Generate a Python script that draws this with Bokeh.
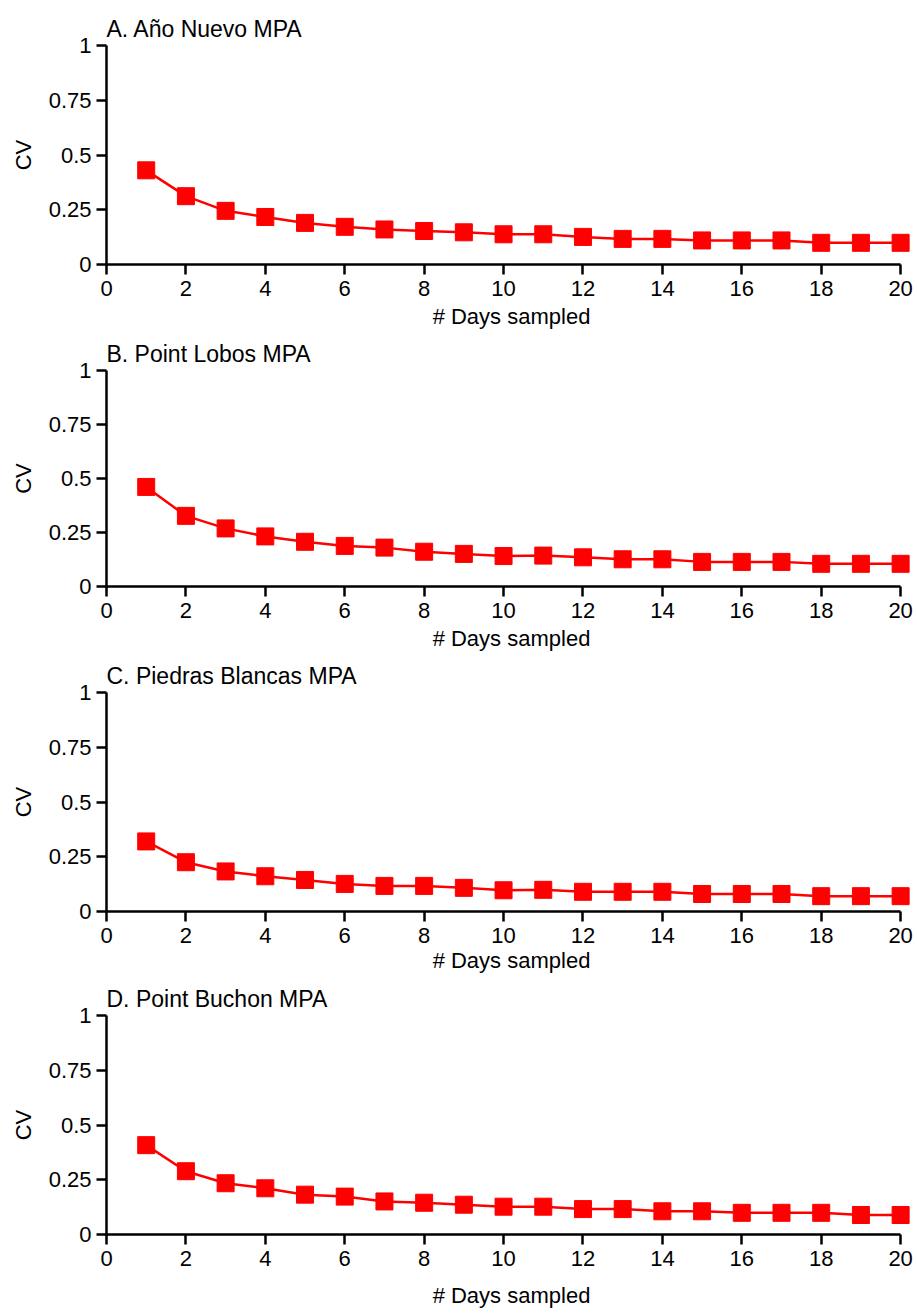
from bokeh.plotting import figure
from bokeh.layouts import column
from bokeh.models import Range1d, FixedTicker
from bokeh.embed import file_html
from bokeh.resources import INLINE

days = list(range(1, 21))
titles = ["A. Año Nuevo MPA", "B. Point Lobos MPA", "C. Piedras Blancas MPA", "D. Point Buchon MPA"]
cv_ano_nuevo = [0.43, 0.312, 0.245, 0.217, 0.19, 0.172, 0.16, 0.153, 0.147, 0.138,
                0.138, 0.126, 0.117, 0.117, 0.11, 0.11, 0.11, 0.099, 0.099, 0.099]
cv_point_lobos = [0.461, 0.327, 0.269, 0.232, 0.207, 0.188, 0.18, 0.161, 0.151, 0.141,
                  0.143, 0.135, 0.126, 0.126, 0.114, 0.114, 0.114, 0.105, 0.105, 0.105]
cv_piedras_blancas = [0.32, 0.225, 0.183, 0.161, 0.144, 0.126, 0.117, 0.117, 0.108, 0.097,
                      0.099, 0.09, 0.09, 0.09, 0.08, 0.08, 0.08, 0.07, 0.07, 0.07]
cv_point_buchon = [0.408, 0.289, 0.234, 0.211, 0.182, 0.173, 0.151, 0.145, 0.136, 0.127,
                   0.127, 0.116, 0.116, 0.106, 0.106, 0.099, 0.099, 0.099, 0.089, 0.089]
series = [cv_ano_nuevo, cv_point_lobos, cv_piedras_blancas, cv_point_buchon]
x_ticks = list(range(0, 21, 2))
y_ticks = [0, 0.25, 0.5, 0.75, 1]
y_tick_labels = {0: "0", 0.25: "0.25", 0.5: "0.5", 0.75: "0.75", 1: "1"}
x_label = "# Days sampled"
y_label = "CV"

FONT = "Liberation Sans"
RED = "#ff0000"

# layout per panel: (top border, frame height, bottom border, axis label standoff)
layouts = [(45, 219, 70, 5), (34, 216, 70, 5), (34, 219, 68, 2), (34, 219, 80, 14)]

figs = []
for (t, vals), (top, fh, bottom, lab_so) in zip(zip(titles, series), layouts):
    p = figure(frame_width=810, frame_height=fh, output_backend="svg", toolbar_location=None,
               x_range=Range1d(0, 20.4), y_range=Range1d(0, 1),
               min_border_left=106, min_border_right=1,
               min_border_top=top, min_border_bottom=bottom)
    p.title.text = t
    p.title.text_font = FONT
    p.title.text_font_size = "23px"
    p.title.text_font_style = "normal"
    p.title.text_color = "black"
    p.title.align = "left"
    p.title.offset = 0
    p.title.standoff = 8
    p.outline_line_color = None
    p.xgrid.visible = False
    p.ygrid.visible = False
    p.background_fill_color = "white"

    p.line(days, vals, line_color=RED, line_width=2.5)
    p.scatter(days, vals, marker="square", size=17, fill_color=RED, line_color=RED)

    for ax in (p.xaxis[0], p.yaxis[0]):
        ax.axis_line_width = 2.5
        ax.axis_line_color = "black"
        ax.major_tick_line_width = 2.5
        ax.major_tick_line_color = "black"
        ax.major_tick_in = 0
        ax.major_tick_out = 10
        ax.minor_tick_line_color = None
        ax.major_label_text_font = FONT
        ax.major_label_text_font_size = "22px"
        ax.major_label_text_color = "black"
        ax.axis_label_text_font = FONT
        ax.axis_label_text_font_size = "22px"
        ax.axis_label_text_font_style = "normal"
        ax.axis_label_text_color = "black"

    p.xaxis[0].ticker = FixedTicker(ticks=x_ticks)
    p.xaxis[0].bounds = (0, 20)
    p.xaxis[0].axis_label = x_label
    p.xaxis[0].axis_label_standoff = lab_so
    p.xaxis[0].major_label_standoff = 6

    p.yaxis[0].ticker = FixedTicker(ticks=y_ticks)
    p.yaxis[0].major_label_overrides = y_tick_labels
    p.yaxis[0].bounds = (0, 1)
    p.yaxis[0].axis_label = y_label
    p.yaxis[0].axis_label_standoff = 10
    p.yaxis[0].major_label_standoff = 5
    figs.append(p)

layout = column(*figs, spacing=0)
open("out.html", "w").write(file_html(layout, INLINE))
